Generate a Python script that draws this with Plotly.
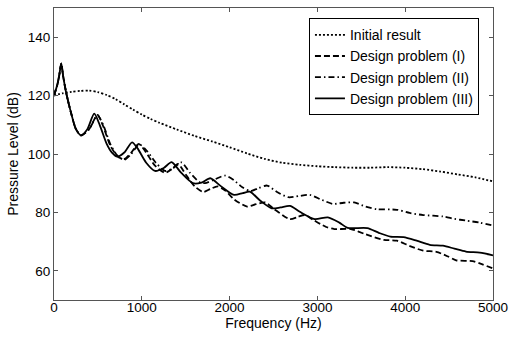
import plotly.graph_objects as go

# Initial result (dotted)
f_init = [0, 100, 200, 300, 400, 500, 600, 700, 800, 900, 1000, 1100, 1200, 1400, 1600, 1800,
          2000, 2200, 2400, 2600, 2800, 3000, 3200, 3400, 3600, 3800, 4000, 4200, 4400, 4600, 4800, 5000]
p_init = [120, 120.8, 121.3, 121.6, 121.7, 121.2, 120.2, 118.8, 117, 115.2, 113.5, 112, 110.7, 108.4,
          106.2, 104.3, 102.3, 100.2, 98.3, 97, 96.3, 95.8, 95.5, 95.3, 95.3, 95.5, 95.3, 94.8, 94,
          93, 92, 90.6]

# Design problem (I) (dashed)
f_d1 = [0, 40, 60, 83, 105, 140, 195, 250, 308, 400, 495, 560, 640, 720, 795, 880, 964, 1050, 1150,
        1264, 1340, 1413, 1500, 1600, 1700, 1780, 1863, 1950, 2050, 2200, 2300, 2407, 2500, 2687,
        2780, 2856, 2950, 3100, 3193, 3381, 3550, 3756, 3906, 4050, 4205, 4355, 4480, 4580, 4767,
        4880, 5000]
p_d1 = [120, 124, 127, 131, 126.5, 120.8, 114, 108.5, 106.4, 108.5, 113.4, 109.5, 103, 99.3, 98.2,
        100.5, 103.5, 100.5, 96, 93.6, 94.8, 96.6, 93, 89, 87, 88, 88.9, 87.5, 84.5, 82, 82.8, 83.4,
        81.3, 77.7, 78.5, 79.1, 77.5, 75, 74.3, 74.3, 72.5, 70.6, 70.3, 68.5, 66.9, 66.5, 65, 63.6,
        63.3, 62.2, 60.8]

# Design problem (II) (dash-dot)
f_d2 = [0, 40, 60, 83, 105, 140, 195, 250, 308, 400, 495, 560, 640, 720, 800, 880, 970, 1060, 1160,
        1264, 1350, 1451, 1550, 1657, 1720, 1830, 1950, 2050, 2150, 2238, 2330, 2426, 2540, 2669,
        2790, 2912, 3050, 3175, 3300, 3418, 3550, 3681, 3906, 4050, 4205, 4430, 4560, 4692, 4850,
        5000]
p_d2 = [120, 124, 127, 131, 126.5, 120.8, 114, 108.5, 106.4, 108.5, 113.2, 110, 103.5, 99.5, 98,
        100, 103.3, 101, 97, 94.2, 95, 97.1, 93.5, 90.4, 90, 91.3, 92.6, 91, 88.5, 87.3, 88.3, 89.2,
        87, 85.2, 85.6, 86, 84.3, 82.9, 83.3, 83.4, 82, 81.1, 80.9, 79.8, 79.1, 78.6, 77.8, 77.2,
        76.5, 75.5]

# Design problem (III) (solid)
f_d3 = [0, 40, 60, 83, 105, 140, 195, 250, 308, 380, 458, 520, 600, 660, 720, 800, 889, 950, 1050,
        1150, 1250, 1339, 1450, 1582, 1680, 1780, 1900, 2050, 2150, 2230, 2350, 2480, 2580, 2687,
        2800, 2969, 3119, 3250, 3344, 3569, 3700, 3831, 3981, 4130, 4280, 4430, 4560, 4692, 4850,
        5000]
p_d3 = [120, 124, 127, 131, 126.5, 120.8, 114, 108.5, 106.4, 108.5, 113.8, 110, 103.5, 100.5, 99.1,
        100.5, 104, 102, 97, 94.2, 95.2, 97.2, 93.5, 90, 90.2, 91.7, 89, 86, 86.6, 87.1, 84, 81.4,
        81.7, 82.2, 80.2, 77.7, 78.3, 76.5, 74.7, 74.6, 73, 71.7, 71.5, 70.3, 68.9, 68.6, 67.6, 66.6,
        66.2, 65.3]

x_ticks = [0, 1000, 2000, 3000, 4000, 5000]
y_ticks = [60, 80, 100, 120, 140]

series = [
    ("Initial result", f_init, p_init, "2px,2px"),
    ("Design problem (I)", f_d1, p_d1, "6px,3px"),
    ("Design problem (II)", f_d2, p_d2, "6px,3px,1.5px,3px"),
    ("Design problem (III)", f_d3, p_d3, "solid"),
]

fig = go.Figure()
for name, fx, py, dash in series:
    fig.add_trace(go.Scatter(
        x=fx, y=py, mode="lines", name=name,
        line=dict(color="black", width=1.8, dash=dash, shape="spline", smoothing=0.7),
    ))

font_family = "Liberation Sans, Arial, sans-serif"
axis_common = dict(
    showgrid=False, zeroline=False, showline=True, linecolor="#555", linewidth=1,
    mirror="ticks", ticks="inside", ticklen=4, tickcolor="#555",
    tickfont=dict(family=font_family, size=13.5, color="black"),
)

fig.update_layout(
    width=515, height=338,
    margin=dict(l=54, r=16, t=7, b=38),
    paper_bgcolor="white", plot_bgcolor="white",
    font=dict(family=font_family, color="black"),
    xaxis=dict(range=[0, 5000], tickvals=x_ticks, ticklabelstandoff=-5,
               title=dict(text="Frequency (Hz)", font=dict(size=14), standoff=0),
               **axis_common),
    yaxis=dict(range=[50, 150], tickvals=y_ticks,
               title=dict(text="Pressure Level (dB)", font=dict(size=14), standoff=5),
               **axis_common),
    legend=dict(x=0.968, y=0.965, xanchor="right", yanchor="top",
                bordercolor="black", borderwidth=1, bgcolor="white",
                font=dict(family=font_family, size=14, color="black"),
                itemwidth=30, tracegroupgap=0),
    showlegend=True,
)

fig.write_html("out.html")
